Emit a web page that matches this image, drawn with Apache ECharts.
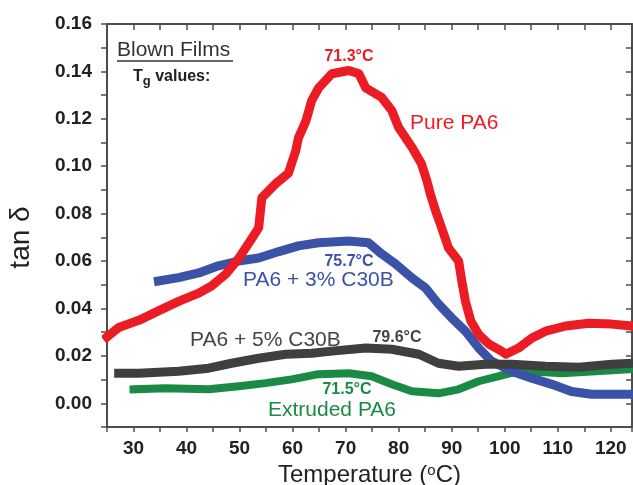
<!DOCTYPE html>
<html>
<head>
<meta charset="utf-8">
<script src="https://cdn.jsdelivr.net/npm/echarts@6/dist/echarts.min.js"></script>
<style>
  html, body { margin: 0; padding: 0; background: #fff; }
  #chart { width: 633px; height: 485px; }
</style>
</head>
<body>
<div id="chart"></div>
<script>
// tan delta vs temperature
var pureT = [25, 27.2, 31, 34.7, 38.5, 42.3, 44.7, 47.4, 49.8, 52, 53.6, 54.2, 56.8, 59.2, 60.6, 61.1, 62.5, 63.6, 64.9, 67.4, 70.6, 72.5, 73.8, 76.8, 78.7, 80, 82.5, 84.3, 85.3, 86, 87, 88.1, 89.4, 91.3, 91.9, 92.6, 93.6, 95.1, 97, 99.4, 100.2, 102.6, 105.1, 107.7, 111.5, 115.8, 120.2, 124];
var pureV = [0.028, 0.032, 0.035, 0.039, 0.043, 0.0465, 0.0495, 0.0545, 0.061, 0.0685, 0.074, 0.0867, 0.0926, 0.097, 0.1066, 0.112, 0.119, 0.1277, 0.133, 0.139, 0.1404, 0.139, 0.133, 0.129, 0.1235, 0.1163, 0.108, 0.101, 0.094, 0.088, 0.081, 0.074, 0.0655, 0.06, 0.0516, 0.043, 0.0347, 0.029, 0.025, 0.022, 0.0207, 0.0233, 0.0275, 0.0304, 0.0326, 0.0338, 0.0334, 0.0326];

var c3T = [34.7, 38.5, 42.3, 46, 49.8, 53.6, 57.4, 61.1, 64.9, 70.6, 74.3, 76.8, 79.4, 82.5, 85.1, 87.5, 90, 92.6, 95.1, 97.5, 101.3, 105.1, 108.9, 112.6, 116.4, 120.2, 124];
var c3V = [0.0516, 0.053, 0.055, 0.058, 0.06, 0.0613, 0.064, 0.0664, 0.0677, 0.0685, 0.0677, 0.063, 0.0588, 0.0529, 0.0486, 0.0419, 0.036, 0.0304, 0.0233, 0.0178, 0.0135, 0.0106, 0.008, 0.005, 0.0038, 0.0038, 0.0038];

var c5T = [27.2, 31, 38.5, 44.2, 48.5, 53.6, 58.7, 63.6, 67.4, 73.8, 78.7, 83.8, 87.5, 91.3, 96.4, 101.3, 107.7, 114, 120.2, 124];
var c5V = [0.0127, 0.0127, 0.0135, 0.0148, 0.0169, 0.019, 0.0207, 0.0211, 0.022, 0.0233, 0.0228, 0.0207, 0.0169, 0.0156, 0.0165, 0.0165, 0.0156, 0.0152, 0.0165, 0.0169];

var extT = [30, 36, 44.2, 49.8, 54.9, 59.8, 64.9, 70.6, 74.9, 78.7, 82.5, 87.5, 91.3, 95.1, 98.9, 101.3, 104.5, 110.8, 117.2, 124];
var extV = [0.0059, 0.0063, 0.0059, 0.0072, 0.0085, 0.0101, 0.0123, 0.0127, 0.0114, 0.008, 0.0051, 0.0042, 0.0059, 0.0093, 0.0115, 0.0128, 0.0135, 0.0127, 0.0135, 0.0144];

var xLabels = [30, 40, 50, 60, 70, 80, 90, 100, 110, 120];
var yLabels = ['0.00', '0.02', '0.04', '0.06', '0.08', '0.10', '0.12', '0.14', '0.16'];

function zip(a, b) {
	var out = [];
	for (var i = 0; i < a.length; i++) out.push([a[i], b[i]]);
	return out;
}

var FONT = '"Liberation Sans", Arial, sans-serif';
var axisCol = '#4d4d4d';

var myChart = echarts.init(document.getElementById('chart'));

function xAx(pos) {
	var top = pos == 'top';
	return {
		type: 'value', position: pos, min: 25, max: 124, interval: 5,
		name: top ? '' : 'Temperature ({s|o}C)',
		nameLocation: 'middle', nameGap: 36,
		nameTextStyle: {
			fontFamily: FONT, fontSize: 24, color: '#222',
			rich: { s: { fontFamily: FONT, fontSize: 15, color: '#222', padding: [0, 0, 10, 0] } }
		},
		axisLine: { show: true, onZero: false, lineStyle: { color: axisCol, width: 2 } },
		axisTick: { show: true, inside: top, length: top ? 6 : 5, lineStyle: { color: axisCol, width: 1.5 } },
		axisLabel: {
			show: !top, margin: 12, fontFamily: FONT, fontSize: 19, fontWeight: 'bold', color: '#222',
			formatter: function (v) { return xLabels.indexOf(v) >= 0 ? String(v) : ''; }
		},
		splitLine: { show: false }
	};
}

function yAx(pos) {
	var right = pos == 'right';
	return {
		type: 'value', position: pos, min: -0.01, max: 0.16, interval: 0.01,
		name: right ? '' : 'tan δ',
		nameLocation: 'middle', nameGap: 72,
		nameTextStyle: { fontFamily: FONT, fontSize: 28, color: '#222', padding: [0, 0, 0, -24] },
		axisLine: { show: true, onZero: false, lineStyle: { color: axisCol, width: 2 } },
		axisTick: { show: true, inside: right, length: 6, lineStyle: { color: axisCol, width: 1.5 } },
		axisLabel: {
			show: !right, margin: 15, fontFamily: FONT, fontSize: 19, fontWeight: 'bold', color: '#222',
			formatter: function (v) { var s = v.toFixed(2); return yLabels.indexOf(s) >= 0 ? s : ''; }
		},
		splitLine: { show: false }
	};
}

function band(name, color, data, w) {
	return {
		name: name, type: 'line', data: data, xAxisIndex: 0, yAxisIndex: 0,
		showSymbol: false, smooth: false, animation: false,
		lineStyle: { color: color, width: w, join: 'round', cap: 'square' },
		itemStyle: { color: color }
	};
}

function txt(x, y, text, color, size, bold, align) {
	return {
		type: 'text', x: x, y: y, z: 100,
		style: {
			text: text, fill: color, font: (bold ? 'bold ' : '') + size + 'px ' + FONT,
			align: align || 'left', verticalAlign: 'middle'
		}
	};
}

var red = '#ec1c24', blue = '#3a53a6', grey = '#3f3f3f', green = '#1b8a45';

var option = {
	backgroundColor: '#fff',
	animation: false,
	grid: { left: 107, right: 1, top: 24, bottom: 58, outerBoundsMode: 'none', containLabel: false },
	xAxis: [xAx('bottom'), xAx('top')],
	yAxis: [yAx('left'), yAx('right')],
	series: [
		band('Extruded PA6', green, zip(extT, extV), 8),
		band('PA6 + 3% C30B', blue, zip(c3T, c3V), 9),
		band('Pure PA6', red, zip(pureT, pureV), 9),
		band('PA6 + 5% C30B', grey, zip(c5T, c5V), 9)
	],
	graphic: [
		txt(117, 50, 'Blown Films', '#333', 21, false),
		{ type: 'line', z: 100, shape: { x1: 117, y1: 61, x2: 233, y2: 61 }, style: { stroke: '#333', lineWidth: 1.5 } },
		{
			type: 'text', x: 133, y: 77, z: 100,
			style: {
				text: '{t|T}{g|g}{t| values:}', verticalAlign: 'middle',
				rich: {
					t: { font: 'bold 16px ' + FONT, fill: '#222' },
					g: { font: 'bold 13px ' + FONT, fill: '#222', padding: [8, 0, 0, 0] }
				}
			}
		},
		txt(349, 57, '71.3°C', red, 16, true, 'center'),
		txt(410, 123, 'Pure PA6', red, 21, false),
		txt(349, 262, '75.7°C', blue, 16, true, 'center'),
		txt(243, 280, 'PA6 + 3% C30B', blue, 21, false),
		txt(190, 340, 'PA6 + 5% C30B', '#444', 21, false),
		txt(397, 338, '79.6°C', '#444', 16, true, 'center'),
		txt(347, 390, '71.5°C', green, 16, true, 'center'),
		txt(268, 410, 'Extruded PA6', green, 21, false)
	]
};

myChart.setOption(option);
</script>
</body>
</html>
